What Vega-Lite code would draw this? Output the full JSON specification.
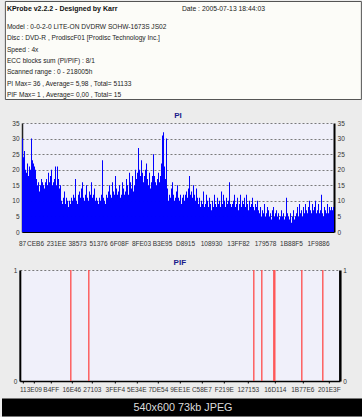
{
  "$schema": "https://vega.github.io/schema/vega-lite/v6.json",
  "padding": 0,
  "background": "#ececec",
  "config": {
    "font": "Liberation Sans",
    "view": {"stroke": null},
    "axis": {"labelFont": "Liberation Sans", "labelFontSize": 6.5, "labelColor": "#333333", "title": null},
    "title": {"font": "Liberation Sans", "fontSize": 8, "fontWeight": "bold", "color": "#1a1a8a", "anchor": "middle"}
  },
  "datasets": {
    "header": [
      {"kind": "title", "line": 0, "col": 0, "text": "KProbe v2.2.2 - Designed by Karr"},
      {"kind": "date", "line": 0, "col": 1, "text": "Date : 2005-07-13 18:44:03"},
      {"kind": "info", "line": 1, "col": 0, "text": "Model : 0-0-2-0 LITE-ON DVDRW SOHW-1673S JS02"},
      {"kind": "info", "line": 2, "col": 0, "text": "Disc : DVD-R , ProdiscF01 [Prodisc Technology Inc.]"},
      {"kind": "info", "line": 3, "col": 0, "text": "Speed : 4x"},
      {"kind": "info", "line": 4, "col": 0, "text": "ECC blocks sum (PI/PIF) : 8/1"},
      {"kind": "info", "line": 5, "col": 0, "text": "Scanned range : 0 - 218005h"},
      {"kind": "info", "line": 6, "col": 0, "text": "PI Max= 36 , Average= 5,98 , Total= 51133"},
      {"kind": "info", "line": 7, "col": 0, "text": "PIF Max= 1 , Average= 0,00 , Total= 15"}
    ],
    "pi": [
      {"i":0,"pi":30},{"i":1,"pi":24},{"i":2,"pi":26},{"i":3,"pi":20},{"i":4,"pi":19},{"i":5,"pi":22},{"i":6,"pi":18},{"i":7,"pi":21},{"i":8,"pi":20},{"i":9,"pi":30},
      {"i":10,"pi":23},{"i":11,"pi":22},{"i":12,"pi":21},{"i":13,"pi":20},{"i":14,"pi":17},{"i":15,"pi":15},{"i":16,"pi":16},{"i":17,"pi":13},{"i":18,"pi":15},{"i":19,"pi":17},
      {"i":20,"pi":16},{"i":21,"pi":15},{"i":22,"pi":14},{"i":23,"pi":16},{"i":24,"pi":17},{"i":25,"pi":15},{"i":26,"pi":19},{"i":27,"pi":16},{"i":28,"pi":18},{"i":29,"pi":20},
      {"i":30,"pi":15},{"i":31,"pi":16},{"i":32,"pi":17},{"i":33,"pi":21},{"i":34,"pi":15},{"i":35,"pi":21},{"i":36,"pi":17},{"i":37,"pi":14},{"i":38,"pi":15},{"i":39,"pi":10},
      {"i":40,"pi":9},{"i":41,"pi":11},{"i":42,"pi":13},{"i":43,"pi":9},{"i":44,"pi":11},{"i":45,"pi":10},{"i":46,"pi":8},{"i":47,"pi":10},{"i":48,"pi":9},{"i":49,"pi":11},
      {"i":50,"pi":10},{"i":51,"pi":12},{"i":52,"pi":11},{"i":53,"pi":17},{"i":54,"pi":10},{"i":55,"pi":9},{"i":56,"pi":12},{"i":57,"pi":13},{"i":58,"pi":11},{"i":59,"pi":14},
      {"i":60,"pi":16},{"i":61,"pi":11},{"i":62,"pi":10},{"i":63,"pi":12},{"i":64,"pi":15},{"i":65,"pi":11},{"i":66,"pi":10},{"i":67,"pi":13},{"i":68,"pi":12},{"i":69,"pi":16},
      {"i":70,"pi":11},{"i":71,"pi":12},{"i":72,"pi":14},{"i":73,"pi":10},{"i":74,"pi":11},{"i":75,"pi":10},{"i":76,"pi":9},{"i":77,"pi":11},{"i":78,"pi":10},{"i":79,"pi":12},
      {"i":80,"pi":23},{"i":81,"pi":11},{"i":82,"pi":10},{"i":83,"pi":9},{"i":84,"pi":12},{"i":85,"pi":11},{"i":86,"pi":13},{"i":87,"pi":15},{"i":88,"pi":12},{"i":89,"pi":11},
      {"i":90,"pi":16},{"i":91,"pi":13},{"i":92,"pi":12},{"i":93,"pi":18},{"i":94,"pi":14},{"i":95,"pi":12},{"i":96,"pi":13},{"i":97,"pi":15},{"i":98,"pi":11},{"i":99,"pi":12},
      {"i":100,"pi":16},{"i":101,"pi":14},{"i":102,"pi":12},{"i":103,"pi":13},{"i":104,"pi":17},{"i":105,"pi":15},{"i":106,"pi":12},{"i":107,"pi":19},{"i":108,"pi":16},{"i":109,"pi":14},
      {"i":110,"pi":18},{"i":111,"pi":13},{"i":112,"pi":15},{"i":113,"pi":20},{"i":114,"pi":17},{"i":115,"pi":19},{"i":116,"pi":27},{"i":117,"pi":20},{"i":118,"pi":18},{"i":119,"pi":23},
      {"i":120,"pi":19},{"i":121,"pi":16},{"i":122,"pi":18},{"i":123,"pi":20},{"i":124,"pi":22},{"i":125,"pi":17},{"i":126,"pi":15},{"i":127,"pi":19},{"i":128,"pi":14},{"i":129,"pi":16},
      {"i":130,"pi":18},{"i":131,"pi":25},{"i":132,"pi":18},{"i":133,"pi":16},{"i":134,"pi":15},{"i":135,"pi":17},{"i":136,"pi":19},{"i":137,"pi":16},{"i":138,"pi":18},{"i":139,"pi":22},
      {"i":140,"pi":31},{"i":141,"pi":32},{"i":142,"pi":21},{"i":143,"pi":17},{"i":144,"pi":30},{"i":145,"pi":14},{"i":146,"pi":10},{"i":147,"pi":12},{"i":148,"pi":11},{"i":149,"pi":14},
      {"i":150,"pi":16},{"i":151,"pi":12},{"i":152,"pi":10},{"i":153,"pi":11},{"i":154,"pi":13},{"i":155,"pi":15},{"i":156,"pi":11},{"i":157,"pi":10},{"i":158,"pi":12},{"i":159,"pi":9},
      {"i":160,"pi":11},{"i":161,"pi":12},{"i":162,"pi":10},{"i":163,"pi":12},{"i":164,"pi":13},{"i":165,"pi":11},{"i":166,"pi":14},{"i":167,"pi":18},{"i":168,"pi":12},{"i":169,"pi":13},
      {"i":170,"pi":11},{"i":171,"pi":15},{"i":172,"pi":12},{"i":173,"pi":10},{"i":174,"pi":14},{"i":175,"pi":11},{"i":176,"pi":9},{"i":177,"pi":11},{"i":178,"pi":8},{"i":179,"pi":10},
      {"i":180,"pi":9},{"i":181,"pi":13},{"i":182,"pi":8},{"i":183,"pi":9},{"i":184,"pi":12},{"i":185,"pi":10},{"i":186,"pi":8},{"i":187,"pi":11},{"i":188,"pi":9},{"i":189,"pi":7},
      {"i":190,"pi":10},{"i":191,"pi":8},{"i":192,"pi":12},{"i":193,"pi":9},{"i":194,"pi":8},{"i":195,"pi":11},{"i":196,"pi":9},{"i":197,"pi":10},{"i":198,"pi":8},{"i":199,"pi":13},
      {"i":200,"pi":9},{"i":201,"pi":12},{"i":202,"pi":10},{"i":203,"pi":8},{"i":204,"pi":11},{"i":205,"pi":9},{"i":206,"pi":10},{"i":207,"pi":16},{"i":208,"pi":9},{"i":209,"pi":8},
      {"i":210,"pi":9},{"i":211,"pi":10},{"i":212,"pi":12},{"i":213,"pi":8},{"i":214,"pi":9},{"i":215,"pi":11},{"i":216,"pi":7},{"i":217,"pi":9},{"i":218,"pi":12},{"i":219,"pi":8},
      {"i":220,"pi":10},{"i":221,"pi":9},{"i":222,"pi":11},{"i":223,"pi":8},{"i":224,"pi":12},{"i":225,"pi":9},{"i":226,"pi":7},{"i":227,"pi":10},{"i":228,"pi":8},{"i":229,"pi":9},
      {"i":230,"pi":11},{"i":231,"pi":8},{"i":232,"pi":7},{"i":233,"pi":9},{"i":234,"pi":8},{"i":235,"pi":10},{"i":236,"pi":7},{"i":237,"pi":6},{"i":238,"pi":8},{"i":239,"pi":5},
      {"i":240,"pi":7},{"i":241,"pi":6},{"i":242,"pi":9},{"i":243,"pi":5},{"i":244,"pi":6},{"i":245,"pi":8},{"i":246,"pi":7},{"i":247,"pi":5},{"i":248,"pi":6},{"i":249,"pi":4},
      {"i":250,"pi":7},{"i":251,"pi":8},{"i":252,"pi":5},{"i":253,"pi":6},{"i":254,"pi":7},{"i":255,"pi":5},{"i":256,"pi":6},{"i":257,"pi":4},{"i":258,"pi":5},{"i":259,"pi":7},
      {"i":260,"pi":5},{"i":261,"pi":6},{"i":262,"pi":4},{"i":263,"pi":5},{"i":264,"pi":11},{"i":265,"pi":6},{"i":266,"pi":5},{"i":267,"pi":4},{"i":268,"pi":6},{"i":269,"pi":3},
      {"i":270,"pi":5},{"i":271,"pi":7},{"i":272,"pi":4},{"i":273,"pi":5},{"i":274,"pi":6},{"i":275,"pi":8},{"i":276,"pi":5},{"i":277,"pi":9},{"i":278,"pi":6},{"i":279,"pi":7},
      {"i":280,"pi":5},{"i":281,"pi":8},{"i":282,"pi":6},{"i":283,"pi":9},{"i":284,"pi":7},{"i":285,"pi":6},{"i":286,"pi":8},{"i":287,"pi":10},{"i":288,"pi":7},{"i":289,"pi":6},
      {"i":290,"pi":9},{"i":291,"pi":7},{"i":292,"pi":8},{"i":293,"pi":10},{"i":294,"pi":6},{"i":295,"pi":7},{"i":296,"pi":9},{"i":297,"pi":6},{"i":298,"pi":7},{"i":299,"pi":12},
      {"i":300,"pi":6},{"i":301,"pi":5},{"i":302,"pi":8},{"i":303,"pi":7},{"i":304,"pi":6},{"i":305,"pi":9},{"i":306,"pi":6},{"i":307,"pi":8},{"i":308,"pi":7},{"i":309,"pi":8},
      {"i":310,"pi":7},{"i":311,"pi":8}
    ],
    "pif": [
      {"i":51,"pif":1},{"i":69,"pif":1},{"i":234,"pif":1},{"i":242,"pif":1},{"i":254,"pif":1},{"i":255,"pif":1},{"i":282,"pif":1},{"i":303,"pif":1}
    ],
    "caption": [{"caption": "540x600 73kb JPEG"}]
  },
  "vconcat": [
    {
      "center": true,
      "spacing": 11,
      "vconcat": [
        {
          "width": 356,
          "height": 98,
          "view": {"fill": "#fcfcf8", "stroke": "#555555", "strokeWidth": 1},
          "data": {"name": "header"},
          "encoding": {
            "x": {"field": "col", "type": "quantitative", "scale": {"domain": [0, 2], "nice": false, "zero": false}, "axis": null},
            "y": {"field": "line", "type": "quantitative", "scale": {"domain": [-1.294, 7.354], "reverse": true, "nice": false, "zero": false}, "axis": null},
            "text": {"field": "text"}
          },
          "layer": [
            {"transform": [{"filter": "datum.kind === 'title'"}], "mark": {"type": "text", "align": "left", "baseline": "middle", "dx": 2, "dy": -6.7, "fontSize": 7, "fontWeight": "bold", "color": "#111111"}},
            {"transform": [{"filter": "datum.kind === 'date'"}], "mark": {"type": "text", "align": "left", "baseline": "middle", "dx": -1, "dy": -6.7, "fontSize": 6.8, "color": "#222222"}},
            {"transform": [{"filter": "datum.kind === 'info'"}], "mark": {"type": "text", "align": "left", "baseline": "middle", "dx": 2, "fontSize": 6.6, "color": "#222222"}}
          ]
        },
        {
          "title": {"text": "PI", "offset": 0.5, "frame": "group"},
          "width": 312,
          "height": 109,
          "view": {"fill": "#f0f0fa", "stroke": null},
          "data": {"name": "pi"},
          "layer": [
            {
              "mark": {"type": "bar", "color": "#0000ff"},
              "encoding": {
                "x": {"field": "i", "type": "ordinal", "scale": {"paddingInner": 0, "paddingOuter": 0},
                  "axis": {"values": [0,13,34,55,76,97,119,140,163,189,216,243,269,296],
                    "labelExpr": "['87','CEB6','231EE','38573','51376','6F08F','8FE03','B3E95','D8915','108930','13FF82','179578','1B88F5','1F9886'][indexof([0,13,34,55,76,97,119,140,163,189,216,243,269,296], datum.value)]",
                    "labelAngle": 0, "labelOverlap": false, "ticks": false, "domainColor": "#000000", "domainWidth": 1, "labelPadding": 8.5}},
                "y": {"field": "pi", "type": "quantitative", "scale": {"domain": [0, 35], "nice": false},
                  "axis": {"values": [0,5,10,15,20,25,30,35], "format": "d", "grid": true, "gridDash": [2, 2], "gridColor": "#7a7a7a", "gridOpacity": 1, "ticks": false, "domainColor": "#222222", "domainWidth": 1.5, "labelPadding": 3, "minExtent": 22}}
              }
            },
            {
              "mark": {"type": "point", "opacity": 0},
              "encoding": {
                "y": {"field": "pi", "type": "quantitative", "scale": {"domain": [0, 35], "nice": false},
                  "axis": {"orient": "right", "values": [0,5,10,15,20,25,30,35], "format": "d", "grid": false, "ticks": false, "domainColor": "#000000", "domainWidth": 2, "labelPadding": 3}}
              }
            }
          ],
          "resolve": {"scale": {"y": "independent"}}
        },
        {
          "title": {"text": "PIF", "offset": 0.5, "frame": "group"},
          "width": 320,
          "height": 111,
          "view": {"fill": "#f0f0fa", "stroke": null},
          "data": {"name": "pif"},
          "layer": [
            {
              "mark": {"type": "rule", "color": "#ff4a4a", "strokeWidth": 1.3},
              "encoding": {
                "x": {"field": "i", "type": "quantitative", "scale": {"domain": [0, 320], "nice": false, "zero": false},
                  "axis": {"values": [3,14,31,51.5,72,95,116.5,138,160,181.5,204,228,255,282.5,309],
                    "labelExpr": "['11','3E09','B4FF','16E46','27103','3FEF4','5E34E','7DE54','9EE1E','C58E7','F219E','127153','16D114','1B77E6','201E3F'][indexof([3,14,31,51.5,72,95,116.5,138,160,181.5,204,228,255,282.5,309], datum.value)]",
                    "labelAngle": 0, "labelOverlap": false, "labelFlush": false, "labelBound": false, "tickSize": 2, "tickColor": "#000000", "domainColor": "#000000", "domainWidth": 1.5, "labelPadding": 3.5, "grid": false}},
                "y": {"field": "pif", "type": "quantitative", "scale": {"domain": [0, 1], "nice": false},
                  "axis": {"values": [0, 1], "format": "d", "grid": true, "gridDash": [2, 2], "gridColor": "#7a7a7a", "gridOpacity": 1, "ticks": false, "domainColor": "#000000", "domainWidth": 2, "labelPadding": 3, "minExtent": 17}},
                "y2": {"datum": 0}
              }
            },
            {
              "mark": {"type": "point", "opacity": 0},
              "encoding": {
                "y": {"field": "pif", "type": "quantitative", "scale": {"domain": [0, 1], "nice": false},
                  "axis": {"orient": "right", "values": [0, 1], "format": "d", "grid": false, "ticks": false, "domainColor": "#000000", "domainWidth": 2.5, "labelPadding": 3}}
              }
            }
          ],
          "resolve": {"scale": {"y": "independent"}}
        }
      ]
    },
    {
      "width": 362,
      "height": 18,
      "view": {"fill": "#000000", "stroke": null},
      "data": {"name": "caption"},
      "mark": {"type": "text", "fontSize": 10.8, "color": "#dcdcdc", "baseline": "middle"},
      "encoding": {"text": {"field": "caption"}}
    }
  ],
  "spacing": 5.5,
  "center": true
}
